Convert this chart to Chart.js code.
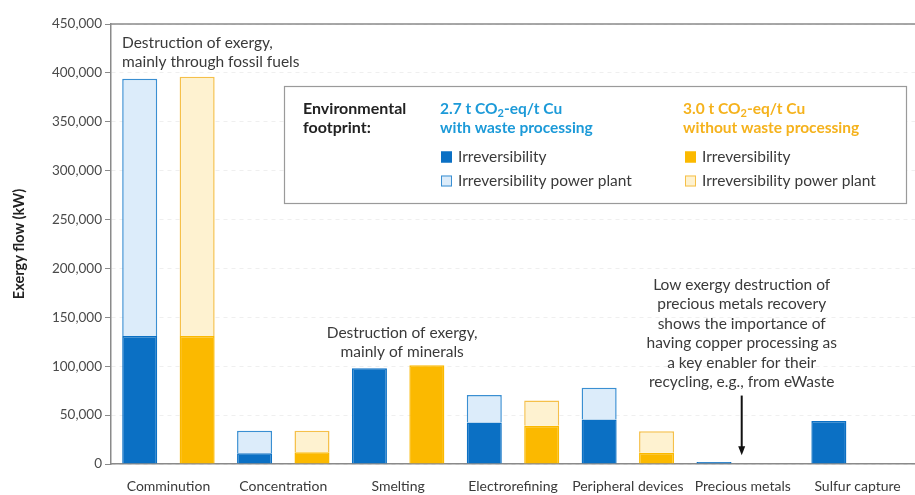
<!DOCTYPE html>
<html><head><meta charset="utf-8">
<script src="https://cdn.jsdelivr.net/npm/chart.js@4"></script>
<style>html,body{margin:0;padding:0;background:#fff;overflow:hidden}#wrap{width:915px;height:495px;position:relative}</style>
</head><body><div id="wrap"><canvas id="c"></canvas></div>
<script>
const categories = ['Comminution','Concentration','Smelting','Electrorefining','Peripheral devices','Precious metals','Sulfur capture'];
const withWasteIrreversibility = [131000, 11000, 98000, 42500, 45500, 2000, 44000];
const withWastePowerPlant = [263000, 23000, null, 28000, 32500, null, null];
const withoutWasteIrreversibility = [131000, 12000, 101000, 39000, 11500, null, null];
const withoutWastePowerPlant = [265000, 22000, null, 26000, 22000, null, null];
const yMax = 450000, yStep = 50000;
const seriesLabels = ['Irreversibility','Irreversibility power plant'];
const legendTitle = ['Environmental','footprint:'];
const legendBlueHead = [['2.7 t CO','2','-eq/t Cu'],['with waste processing']];
const legendOrangeHead = [['3.0 t CO','2','-eq/t Cu'],['without waste processing']];
const note1 = ['Destruction of exergy,','mainly through fossil fuels'];
const note2 = ['Destruction of exergy,','mainly of minerals'];
const note3 = ['Low exergy destruction of','precious metals recovery','shows the importance of','having copper processing as','a key enabler for their','recycling, e.g., from eWaste'];

const FONT = 'Lato';
const C = {blue:'#0b70c4', blueLight:'#dcecfa', blueEdge:'#3a8fd2', orange:'#fbb900', orangeLight:'#fef2d0', orangeEdge:'#f5c04a', blueHead:'#1c9ad8', orangeHead:'#f5b21c', text:'#3a3a3a', axis:'#8a8a8a'};

function drawRich(ctx, parts, x, y, font, size, color) {
  let cx = x;
  parts.forEach((p, i) => {
    const sub = parts.length === 3 && i === 1;
    ctx.font = 'bold ' + (sub ? Math.round(size*0.7) : size) + 'px ' + font;
    ctx.fillStyle = color;
    ctx.textAlign = 'left'; ctx.textBaseline = 'middle';
    ctx.fillText(p, cx, sub ? y + 4 : y);
    cx += ctx.measureText(p).width;
  });
}

const overlay = {
  id: 'overlay',
  afterDraw(chart) {
    const {ctx, chartArea: a, scales: {x, y}} = chart;
    ctx.save();
    ctx.strokeStyle = C.axis; ctx.lineWidth = 1.5;
    ctx.beginPath(); ctx.moveTo(a.left, a.top); ctx.lineTo(a.right, a.top); ctx.stroke();

    ctx.fillStyle = C.text; ctx.font = '15.5px ' + FONT; ctx.textBaseline = 'middle';
    ctx.textAlign = 'left';
    note1.forEach((t, i) => ctx.fillText(t, a.left + 11, y.getPixelForValue(431000) + i * 19));
    ctx.textAlign = 'center';
    note2.forEach((t, i) => ctx.fillText(t, x.getPixelForValue(2) + 4, y.getPixelForValue(134000) + i * 19));
    note3.forEach((t, i) => ctx.fillText(t, x.getPixelForValue(5) - 1, y.getPixelForValue(183000) + i * 19.4));
    const ax = x.getPixelForValue(5) - 1, ay1 = y.getPixelForValue(70000), ay2 = y.getPixelForValue(9000);
    ctx.strokeStyle = '#111'; ctx.lineWidth = 2;
    ctx.beginPath(); ctx.moveTo(ax, ay1); ctx.lineTo(ax, ay2 - 6); ctx.stroke();
    ctx.fillStyle = '#111';
    ctx.beginPath(); ctx.moveTo(ax - 3.5, ay2 - 9); ctx.lineTo(ax + 3.5, ay2 - 9); ctx.lineTo(ax, ay2); ctx.closePath(); ctx.fill();

    const bx = 284, by = 86, bw = 622, bh = 117;
    ctx.fillStyle = '#fff'; ctx.fillRect(bx, by, bw, bh);
    ctx.strokeStyle = '#9a9a9a'; ctx.lineWidth = 1.2; ctx.strokeRect(bx + 0.5, by + 0.5, bw, bh);
    ctx.fillStyle = '#222'; ctx.font = 'bold 16px ' + FONT; ctx.textAlign = 'left';
    legendTitle.forEach((t, i) => ctx.fillText(t, 303, 109 + i * 18.5));
    legendBlueHead.forEach((parts, i) => drawRich(ctx, parts, 440, 109 + i * 18.5, FONT, 15.5, C.blueHead));
    legendOrangeHead.forEach((parts, i) => drawRich(ctx, parts, 683, 109 + i * 18.5, FONT, 15.5, C.orangeHead));
    const items = [
      [441, 157, C.blue, C.blue, seriesLabels[0]],
      [441, 181, C.blueLight, C.blueEdge, seriesLabels[1]],
      [685, 157, C.orange, C.orange, seriesLabels[0]],
      [685, 181, C.orangeLight, C.orangeEdge, seriesLabels[1]],
    ];
    items.forEach(([ix, iy, f, s, label]) => {
      ctx.fillStyle = f; ctx.fillRect(ix, iy - 5.5, 11, 11);
      ctx.strokeStyle = s; ctx.lineWidth = 1; ctx.strokeRect(ix + 0.5, iy - 5, 10, 10);
      ctx.fillStyle = C.text; ctx.font = '15.5px ' + FONT; ctx.textAlign = 'left';
      ctx.fillText(label, ix + 17, iy);
    });
    ctx.restore();
  }
};

const ds = (label, data, bg, border, stack) => ({label, data, backgroundColor: bg, borderColor: border, borderWidth: 1.5, stack, borderSkipped: 'start'});

new Chart(document.getElementById('c'), {
  type: 'bar',
  data: {
    labels: categories,
    datasets: [
      ds(seriesLabels[0], withWasteIrreversibility, C.blue, C.blue, 'with'),
      ds(seriesLabels[1], withWastePowerPlant, C.blueLight, C.blueEdge, 'with'),
      ds(seriesLabels[0], withoutWasteIrreversibility, C.orange, C.orange, 'without'),
      ds(seriesLabels[1], withoutWastePowerPlant, C.orangeLight, C.orangeEdge, 'without'),
    ]
  },
  options: {
    responsive: true, maintainAspectRatio: false, animation: false,
    layout: {padding: {top: 24, left: 0, right: 0, bottom: 0}},
    datasets: {bar: {categoryPercentage: 1, barPercentage: 0.61}},
    plugins: {legend: {display: false}, tooltip: {enabled: false}},
    scales: {
      x: {
        stacked: true,
        grid: {display: false, drawTicks: false},
        border: {display: true, color: C.axis, width: 1.5},
        ticks: {color: C.text, font: {family: FONT, size: 14}, padding: 14, maxRotation: 0, autoSkip: false},
        afterFit: s => { s.height = 31; }
      },
      y: {
        stacked: true, min: 0, max: yMax,
        afterBuildTicks: s => { s.ticks = []; for (let v = 0; v <= yMax; v += yStep) s.ticks.push({value: v}); },
        ticks: {color: '#4a4a4a', font: {family: FONT, size: 13.5}, padding: 3, callback: v => v.toLocaleString('en-US')},
        grid: {color: '#efefef', tickColor: C.axis, tickLength: 6, tickBorderDash: [], drawTicks: true},
        border: {display: true, color: C.axis, width: 1.5, dash: [4, 4]},
        title: {display: true, text: 'Exergy flow (kW)', color: '#222', font: {family: FONT, size: 14.5, weight: 'bold'}, padding: {top: 11, bottom: 0}},
        afterFit: s => { s.width = 111; }
      }
    }
  },
  plugins: [overlay]
});
</script></body></html>
